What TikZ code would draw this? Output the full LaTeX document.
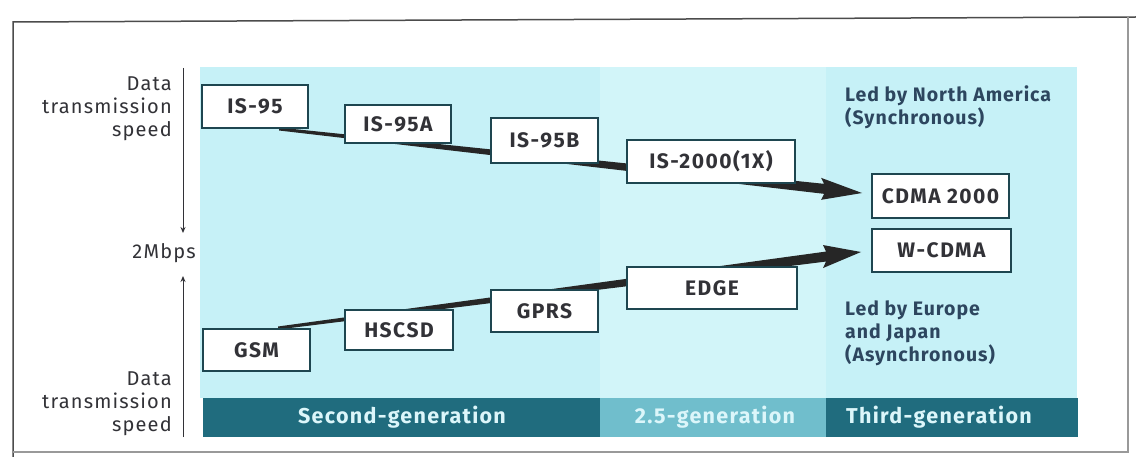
\documentclass[tikz,border=0pt]{standalone}
\usepackage{fontspec}
\setmainfont{Fira Sans}
\usetikzlibrary{calc,arrows.meta}
\pgfdeclarelayer{bg}
\pgfdeclarelayer{mid}
\pgfsetlayers{bg,mid,main}
\definecolor{cyanbg}{RGB}{198,241,247}
\definecolor{cyanlt}{RGB}{210,245,249}
\definecolor{teal}{RGB}{32,108,126}
\definecolor{teallt}{RGB}{112,190,204}
\definecolor{boxc}{RGB}{30,70,80}
\definecolor{txt}{RGB}{50,50,55}
\definecolor{lbl}{RGB}{45,70,95}
\definecolor{bartxt}{RGB}{220,246,250}
\tikzset{
  gbox/.style={draw=boxc, line width=2pt, fill=white, inner sep=0pt,
    font=\fontsize{21}{24}\selectfont\bfseries\addfontfeatures{LetterSpace=7}, text=txt},
  axlbl/.style={font=\fontsize{20}{23}\selectfont\addfontfeatures{LetterSpace=6}, text=txt, align=right, inner sep=0pt},
  sidelbl/.style={font=\fontsize{19.5}{23}\selectfont\bfseries\addfontfeatures{LetterSpace=5}, text=lbl, align=left, inner sep=0pt, anchor=north west},
  bartext/.style={font=\fontsize{21.5}{24}\selectfont\bfseries\addfontfeatures{LetterSpace=6}, text=bartxt, inner sep=0pt},
  axarrow/.style={draw=txt, line width=1pt, -{Stealth[length=6pt,width=5pt]}},
  bigarrow/.style={fill=black!85}
}
\begin{document}
\begin{tikzpicture}[x=1pt,y=-1pt]
\useasboundingbox (0,0) rectangle (1136,457);
% backgrounds
\begin{pgfonlayer}{bg}
\fill[white] (0,0) rectangle (1136,457);
\fill[cyanbg] (200,67) rectangle (1077,398);
\fill[cyanlt] (600,67) rectangle (826,398);
\end{pgfonlayer}
% frame
\draw[black!70, line width=1.5pt] (13,457) -- (13,22) -- (1136,17);
\draw[black!40, line width=1.2pt] (1128,17) -- (1128,452) -- (13,452);
% generation bar
\fill[teal] (203,398) rectangle (600,437);
\fill[teallt] (600,398) rectangle (826,437);
\fill[teal] (826,398) rectangle (1078,437);
\node[bartext] (g2) at (402,417) {Second-generation};
\node[bartext] (g25) at (715,417) {2.5-generation};
\node[bartext] (g3) at (939,417) {Third-generation};
% boxes top
\node[gbox, minimum width=106pt, minimum height=43pt] (is95) at (255,106.5) {IS-95};
\node[gbox, minimum width=106pt, minimum height=38pt] (is95a) at (398,124) {IS-95A};
\node[gbox, minimum width=107pt, minimum height=45pt] (is95b) at (544.5,140.5) {IS-95B};
\node[gbox, minimum width=168pt, minimum height=43pt] (is2000) at (711,161.5) {IS-2000(1X)};
\node[gbox, minimum width=137pt, minimum height=44pt] (cdma) at (940.5,196) {CDMA 2000};
% boxes bottom
\node[gbox, minimum width=139pt, minimum height=43pt] (wcdma) at (941.5,250.5) {W-CDMA};
\node[gbox, minimum width=107pt, minimum height=42pt] (gsm) at (256.5,350) {GSM};
\node[gbox, minimum width=108pt, minimum height=40pt] (hscsd) at (399,330) {HSCSD};
\node[gbox, minimum width=107pt, minimum height=42pt] (gprs) at (544.5,311) {GPRS};
\node[gbox, minimum width=170pt, minimum height=42pt] (edge) at (712,288) {EDGE};
% side labels
\node[sidelbl] (na) at (845,85) {Led by North America\\(Synchronous)};
\node[sidelbl] (eu) at (845,300) {Led by Europe\\and Japan\\(Asynchronous)};
% axis labels
\node[axlbl, anchor=east] (top) at (172,109) {Data\\transmission\\speed};
\node[axlbl, anchor=east] (bot) at (172,404) {Data\\transmission\\speed};
\node[axlbl, anchor=east] (mb) at (196,253) {2Mbps};
\coordinate (ax1) at (183,68);
\coordinate (ax2) at (183,233);
\coordinate (ax3) at (183,437);
\coordinate (ax4) at (183,276);
\draw[axarrow] (ax1) -- (ax2);
\draw[axarrow] (ax3) -- (ax4);
% big arrows
\coordinate (s1) at ($(is95.south east)+(-30,0)$);
\coordinate (t1) at ($(cdma.west)+(-9,-3)$);
\coordinate (b1) at ($(s1)!0.935!(t1)$);
\coordinate (s2) at ($(gsm.north east)+(-33,0)$);
\coordinate (t2) at ($(wcdma.west)+(-10,1.5)$);
\coordinate (b2) at ($(s2)!0.94!(t2)$);
\begin{pgfonlayer}{mid}
\fill[bigarrow] ($(s1)+(0,-1.5)$) -- ($(b1)+(0,-5)$) -- ($(b1)+(-3,-11)$) -- (t1)
  -- ($(b1)+(-3,11)$) -- ($(b1)+(0,5)$) -- ($(s1)+(0,1.5)$) -- cycle;
\fill[bigarrow] ($(s2)+(0,-1.5)$) -- ($(b2)+(0,-5)$) -- ($(b2)+(-3,-11.5)$) -- (t2)
  -- ($(b2)+(-3,11.5)$) -- ($(b2)+(0,5)$) -- ($(s2)+(0,1.5)$) -- cycle;
\end{pgfonlayer}
\end{tikzpicture}
\end{document}
